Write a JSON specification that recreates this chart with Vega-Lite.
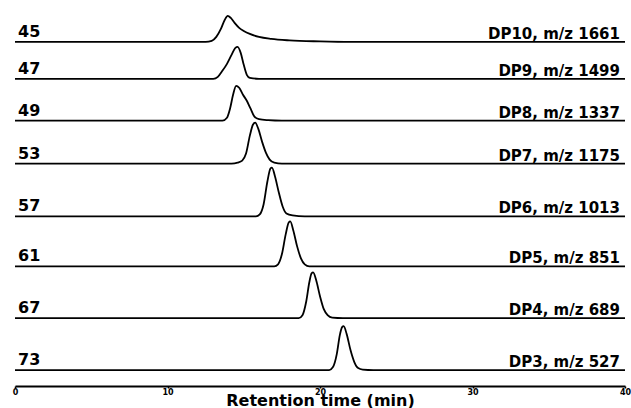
{
"$schema": "https://vega.github.io/schema/vega-lite/v6.json",
"width": 610, "height": 384,
"autosize": "none",
"padding": {"left": 15, "top": 2, "right": 6, "bottom": 22},
"background": "white",
"config": {"view": {"stroke": null}},
"datasets": {
"traces": [
{"trace":"45","t":0,"signal":345},{"trace":"45","t":12.5,"signal":345},{"trace":"45","t":12.9,"signal":346},{"trace":"45","t":13.2,"signal":350},{"trace":"45","t":13.5,"signal":358},{"trace":"45","t":13.75,"signal":367},{"trace":"45","t":13.95,"signal":371},{"trace":"45","t":14.15,"signal":369},{"trace":"45","t":14.4,"signal":364},{"trace":"45","t":14.7,"signal":359},{"trace":"45","t":15.0,"signal":356},{"trace":"45","t":15.4,"signal":353},{"trace":"45","t":16.0,"signal":350},{"trace":"45","t":16.8,"signal":348},{"trace":"45","t":18,"signal":346.5},{"trace":"45","t":20,"signal":345.5},{"trace":"45","t":22,"signal":345},{"trace":"45","t":40,"signal":345},
{"trace":"47","t":0,"signal":308},{"trace":"47","t":13.0,"signal":308},{"trace":"47","t":13.3,"signal":310},{"trace":"47","t":13.6,"signal":316},{"trace":"47","t":13.9,"signal":323},{"trace":"47","t":14.2,"signal":332},{"trace":"47","t":14.45,"signal":339},{"trace":"47","t":14.6,"signal":340},{"trace":"47","t":14.8,"signal":334},{"trace":"47","t":15.0,"signal":322},{"trace":"47","t":15.2,"signal":312},{"trace":"47","t":15.4,"signal":309},{"trace":"47","t":16,"signal":308},{"trace":"47","t":40,"signal":308},
{"trace":"49","t":0,"signal":266},{"trace":"49","t":13.6,"signal":266},{"trace":"49","t":13.9,"signal":269},{"trace":"49","t":14.1,"signal":278},{"trace":"49","t":14.3,"signal":292},{"trace":"49","t":14.5,"signal":301},{"trace":"49","t":14.7,"signal":299},{"trace":"49","t":14.95,"signal":292},{"trace":"49","t":15.2,"signal":286},{"trace":"49","t":15.45,"signal":278},{"trace":"49","t":15.7,"signal":270},{"trace":"49","t":16.0,"signal":267.5},{"trace":"49","t":16.6,"signal":266.5},{"trace":"49","t":17.5,"signal":266},{"trace":"49","t":40,"signal":266},
{"trace":"53","t":0,"signal":223},{"trace":"53","t":14.2,"signal":223},{"trace":"53","t":14.6,"signal":224},{"trace":"53","t":14.9,"signal":226},{"trace":"53","t":15.15,"signal":233},{"trace":"53","t":15.4,"signal":251},{"trace":"53","t":15.6,"signal":262},{"trace":"53","t":15.75,"signal":264},{"trace":"53","t":15.95,"signal":258},{"trace":"53","t":16.2,"signal":245},{"trace":"53","t":16.45,"signal":234},{"trace":"53","t":16.7,"signal":227},{"trace":"53","t":17.0,"signal":224},{"trace":"53","t":17.5,"signal":223},{"trace":"53","t":40,"signal":223},
{"trace":"57","t":0,"signal":170},{"trace":"57","t":15.8,"signal":170},{"trace":"57","t":16.05,"signal":172},{"trace":"57","t":16.3,"signal":182},{"trace":"57","t":16.55,"signal":205},{"trace":"57","t":16.75,"signal":218},{"trace":"57","t":16.85,"signal":219},{"trace":"57","t":17.05,"signal":210},{"trace":"57","t":17.3,"signal":194},{"trace":"57","t":17.55,"signal":180},{"trace":"57","t":17.8,"signal":173},{"trace":"57","t":18.2,"signal":171},{"trace":"57","t":19,"signal":170},{"trace":"57","t":40,"signal":170},
{"trace":"61","t":0,"signal":120},{"trace":"61","t":17.0,"signal":120},{"trace":"61","t":17.25,"signal":122},{"trace":"61","t":17.5,"signal":132},{"trace":"61","t":17.75,"signal":152},{"trace":"61","t":17.95,"signal":164},{"trace":"61","t":18.05,"signal":165},{"trace":"61","t":18.25,"signal":156},{"trace":"61","t":18.5,"signal":140},{"trace":"61","t":18.75,"signal":128},{"trace":"61","t":19.0,"signal":122},{"trace":"61","t":19.3,"signal":120},{"trace":"61","t":40,"signal":120},
{"trace":"67","t":0,"signal":68},{"trace":"67","t":18.6,"signal":68},{"trace":"67","t":18.85,"signal":71},{"trace":"67","t":19.1,"signal":85},{"trace":"67","t":19.3,"signal":104},{"trace":"67","t":19.45,"signal":113},{"trace":"67","t":19.55,"signal":114},{"trace":"67","t":19.75,"signal":106},{"trace":"67","t":20.0,"signal":90},{"trace":"67","t":20.25,"signal":77},{"trace":"67","t":20.5,"signal":71},{"trace":"67","t":20.8,"signal":68.5},{"trace":"67","t":21.5,"signal":68},{"trace":"67","t":40,"signal":68},
{"trace":"73","t":0,"signal":16},{"trace":"73","t":20.6,"signal":16},{"trace":"73","t":20.85,"signal":19},{"trace":"73","t":21.1,"signal":32},{"trace":"73","t":21.3,"signal":51},{"trace":"73","t":21.45,"signal":59},{"trace":"73","t":21.55,"signal":60},{"trace":"73","t":21.75,"signal":52},{"trace":"73","t":22.0,"signal":36},{"trace":"73","t":22.25,"signal":24},{"trace":"73","t":22.5,"signal":18},{"trace":"73","t":22.8,"signal":16.5},{"trace":"73","t":23.5,"signal":16},{"trace":"73","t":40,"signal":16}
],
"labels": [
{"trace":"45","base":345,"left":"45","right":"DP10, m/z 1661"},
{"trace":"47","base":308,"left":"47","right":"DP9, m/z 1499"},
{"trace":"49","base":266,"left":"49","right":"DP8, m/z 1337"},
{"trace":"53","base":223,"left":"53","right":"DP7, m/z 1175"},
{"trace":"57","base":170,"left":"57","right":"DP6, m/z 1013"},
{"trace":"61","base":120,"left":"61","right":"DP5, m/z 851"},
{"trace":"67","base":68,"left":"67","right":"DP4, m/z 689"},
{"trace":"73","base":16,"left":"73","right":"DP3, m/z 527"}
]
},
"layer": [
{"data": {"name": "traces"},
 "mark": {"type": "line", "color": "black", "strokeWidth": 1.8, "interpolate": "monotone", "clip": false},
 "encoding": {
  "x": {"field": "t", "type": "quantitative", "scale": {"domain": [0, 40], "nice": false},
   "axis": {"title": "Retention time (min)", "values": [0, 10, 20, 30, 40], "grid": false,
    "domainColor": "black", "domainWidth": 2, "tickColor": "black", "tickSize": 2, "tickWidth": 1.5,
    "labelFont": "DejaVu Sans", "labelFontWeight": "bold", "labelFontSize": 8, "labelColor": "black", "labelPadding": 0, "labelFlush": false,
    "titleFont": "DejaVu Sans", "titleFontWeight": "bold", "titleFontSize": 16, "titleColor": "black", "titleY": 19, "titleBaseline": "alphabetic"}},
  "y": {"field": "signal", "type": "quantitative", "scale": {"domain": [0, 385], "nice": false, "zero": false}, "axis": null},
  "detail": {"field": "trace"},
  "order": {"field": "t"}
 }},
{"data": {"name": "labels"},
 "mark": {"type": "text", "align": "left", "baseline": "alphabetic", "dx": 3, "dy": -5, "font": "DejaVu Sans", "fontWeight": "bold", "fontSize": 16, "color": "black"},
 "encoding": {
  "x": {"datum": 0, "type": "quantitative"},
  "y": {"field": "base", "type": "quantitative"},
  "text": {"field": "left"}
 }},
{"data": {"name": "labels"},
 "mark": {"type": "text", "align": "right", "baseline": "alphabetic", "dx": -5, "dy": -3, "font": "DejaVu Sans", "fontWeight": "bold", "fontSize": 15, "color": "black"},
 "encoding": {
  "x": {"datum": 40, "type": "quantitative"},
  "y": {"field": "base", "type": "quantitative"},
  "text": {"field": "right"}
 }}
]
}
